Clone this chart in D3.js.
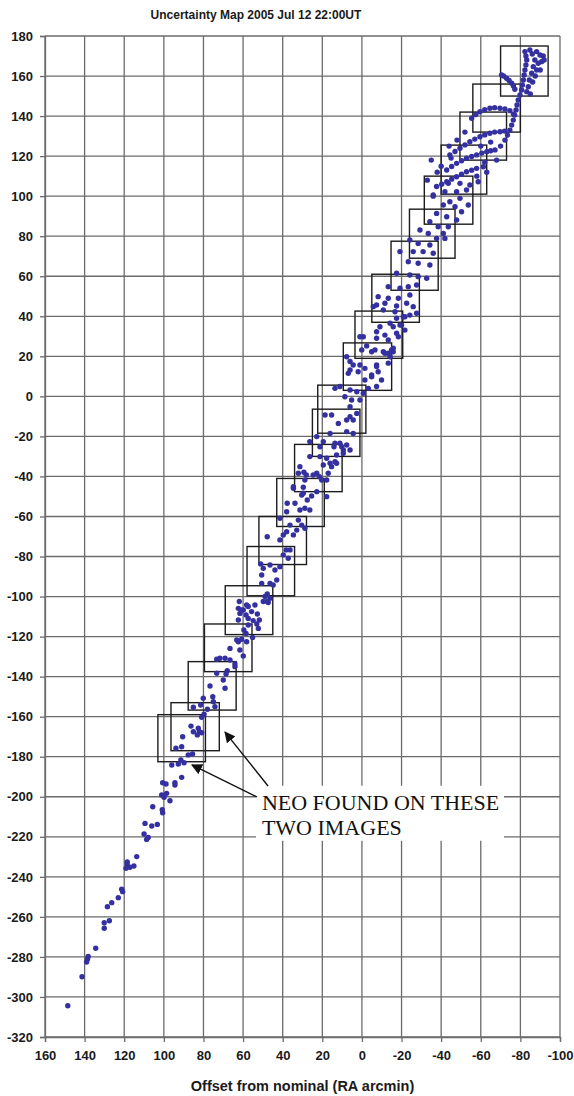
<!DOCTYPE html>
<html>
<head>
<meta charset="utf-8">
<script src="https://cdn.jsdelivr.net/npm/d3@7"></script>
<style>
  html, body { margin: 0; padding: 0; background: #fff; }
  svg { display: block; }
</style>
</head>
<body>
<svg id="chart" width="574" height="1096"></svg>
<script>
// Axis ticks (arcmin offsets from the nominal position)
const raTicks = [160, 140, 120, 100, 80, 60, 40, 20, 0, -20, -40, -60, -80, -100];
const decTicks = [180, 160, 140, 120, 100, 80, 60, 40, 20, 0, -20, -40, -60, -80, -100,
  -120, -140, -160, -180, -200, -220, -240, -260, -280, -300, -320];

// Imaged fields: [ra edge, ra edge, dec low, dec high]
const fieldBoxes = [
  [-94, -70, 150, 175],
  [-80, -56, 132, 156],
  [-73, -49.5, 118, 142],
  [-63, -40, 101, 125.5],
  [-56, -31.5, 86, 110],
  [-47, -24, 69, 93.5],
  [-38.5, -14.7, 53, 77.5],
  [-29, -5, 37, 61],
  [-20.6, 3.5, 19, 42.6],
  [-15, 9.4, 3, 26.7],
  [-2, 22.3, -18.4, 5.6],
  [1, 25, -30, -6.4],
  [10, 34, -47.6, -24],
  [19, 43, -65, -41],
  [28, 52, -84, -60],
  [34, 58, -99.6, -75],
  [45, 69, -119, -94.6],
  [55.5, 79.5, -137.5, -113.7],
  [63.5, 87.7, -156.7, -132.5],
  [72, 96.4, -177, -153],
  [79, 103, -182.5, -159]
];

// Virtual asteroid offsets [ra, dec], grouped by stretch of the uncertainty region
const tailPoints = [
  [148.5, -304.4], [141.3, -289.9], [138.5, -281], [139, -282.5], [138.2, -279.8], [134.4, -275.7],
  [130.1, -265.7], [130.1, -262.9], [127.5, -261.9], [128.5, -254.9], [126.3, -252.9], [123, -250.4],
  [120.8, -247.4], [121.3, -246.2], [119.1, -235.7], [118.5, -233.6], [117.1, -235.2], [115.1, -234.6],
  [113.7, -229.9], [118.5, -232.5], [108.7, -221.3], [107.9, -220.3], [110, -218.6], [106.1, -214.6],
  [109.5, -213.3], [103.3, -213.8], [105.6, -205], [100.6, -208], [100.8, -206.5], [101.1, -199.1],
  [99.9, -200.3], [98.6, -198.3], [96.9, -202], [100.6, -193], [98.9, -193.6], [94.4, -194.1],
  [94.4, -193], [91, -190.3], [96, -184.1], [92.7, -183.6], [89.8, -183]
];

const lowerPoints = [
  [91.4, -181.6], [87.7, -179.1], [85.5, -178.6], [91, -175], [93.9, -175.8], [90.5, -170],
  [86.3, -164.7], [85.1, -167.5], [82.6, -165.8], [82.1, -167.5], [83.1, -169.1], [80.9, -168],
  [80.9, -160.3], [79.7, -158.7], [85.1, -155.3], [81.4, -154.2], [78, -156.3], [74.2, -155],
  [75, -152.5], [75.3, -150], [80.1, -150.8], [76.7, -144.7], [69.1, -145.8], [70, -141.7],
  [73.3, -138.3], [68.6, -138.7], [68, -137], [64.1, -135], [64.1, -133.7], [73.3, -131.3],
  [71.7, -130.8], [69.1, -130.8], [66.6, -131.7], [59.9, -129.7], [66.6, -125.9], [61.6, -126.7],
  [62.4, -122.6], [60.7, -121.3], [58.2, -122.6], [55.2, -120.4], [58.5, -118.4], [52.3, -115.9],
  [53.1, -113.7], [54.9, -112], [57.4, -110.9], [61.6, -108.4], [62.4, -105.9], [59.9, -106.7],
  [57.4, -105], [54, -104.2], [49.8, -102.5], [47.3, -103], [63.2, -121.7], [59.6, -116.7],
  [57.4, -114.2], [62.4, -111.7], [58.5, -109.2], [55.7, -107.5], [52.8, -108.7], [51.8, -111.7],
  [60.7, -106.7], [58.2, -104.2], [61.9, -102.5], [47.8, -102.5], [46.4, -100.9]
];

const middleLowPoints = [
  [47.8, -98.7], [48.9, -100], [50.6, -93.4], [46.4, -93.4], [44.8, -94.2], [43, -91.7],
  [50.6, -89.2], [49.8, -85.9], [46.4, -84.2], [43.9, -86.7], [41.4, -85.1], [51.1, -83.7],
  [39.7, -79.2], [37.2, -80.9], [38.3, -76.7], [36.3, -76.7], [47.8, -70.1], [41.4, -71.7],
  [39.7, -69.2], [38, -67.6], [34.6, -69.2], [32.9, -66.8], [36.3, -64.3], [32.1, -61.8],
  [30.4, -64.3], [28.8, -65.9], [41.4, -60.9], [38, -57.6], [37.7, -53.4], [33.8, -53.4],
  [31.3, -56.8], [28.8, -55.9], [26.3, -56.8], [27.6, -51.8], [25.4, -49.8], [30.4, -49.3],
  [34.6, -45.9], [29.6, -45.4], [28.8, -41.8], [32.1, -38.4], [29.3, -37.9], [24.6, -39.3],
  [21.5, -40.1], [17.8, -41.8], [17, -38.4], [19.5, -34.3], [15.3, -35.1], [13.6, -32.6],
  [17.8, -30.9], [12.8, -29.3], [9.4, -26.8], [7.7, -24.3], [11.1, -23.4], [21.2, -25.2],
  [19.5, -22.6], [14.1, -25.2], [6, -26.8], [22.8, -20.1], [26.3, -22.6], [21.2, -30.1],
  [16.1, -33.4], [12.8, -33.4], [26.3, -30.1], [31.3, -35.1], [28.1, -39.3], [22.8, -38.4],
  [20.3, -41.8], [34.6, -45.1], [29.6, -48.4], [22.8, -47.6], [17.8, -50.1]
];

const middlePoints = [
  [-11.6, 46.5], [-7.4, 45.6], [-17.5, 45.1], [-22.6, 46.5], [-25.9, 44.8], [-24.2, 40.6],
  [-21.7, 39.8], [-27.6, 41.5], [-17.5, 39], [-19.2, 35.6], [-15.8, 34.8], [-17.5, 31.5],
  [-21.7, 33.1], [-7.4, 32.3], [-11.6, 30.6], [1, 29.8], [-2.4, 25.2], [-6.6, 23.2],
  [-10.8, 22.3], [-13.3, 21.5], [-15, 23.2], [-14.2, 19.8], [-15.8, 24], [7.7, 19.8],
  [4.4, 15.7], [6, 13.2], [1.9, 12.3], [-1.5, 14], [-7.4, 15.7], [-4.9, 10.7],
  [-8.2, 12.3], [-9.9, 8.2], [-7.4, 4.9], [-1.5, 8.2], [-3.2, 4], [-0.7, 1.5],
  [2.6, 2.3], [6, 3.2], [11.1, 4.9], [13.6, 4], [8.6, -0.2], [5.2, -1.8],
  [1, -1.8], [6, -5.2], [2.6, -8.5], [6, -10.2], [7.7, -11.8], [4.4, -11.8],
  [15.3, -9.3], [18.6, -9.3], [11.9, -13.5], [16.1, -18.5], [7.7, -17.6], [4.4, -18.5],
  [13.6, -23.4], [10.2, -25.2], [9.4, -28.4], [-0.7, 29.8], [-7.4, 29], [-13.3, 28.2],
  [-18.4, 29.8], [0.1, 23.2], [-4.9, 22.3], [-11.6, 21.5], [-15.8, 22.3], [6, 17.4],
  [1, 15.7], [-7.4, 14.9], [-13.3, 16.6], [6.9, 11.5], [-4.9, 9.8], [-8.2, 49.8],
  [-13.3, 49], [-18.4, 49], [-24.2, 50.6], [-5.7, 44.8], [-10.8, 43.1], [-16.7, 42.3],
  [-20.9, 39.8], [-20, 35.6], [-14.2, 36.5], [-9.1, 34.8]
];

const upperMiddlePoints = [
  [-43.6, 106.4], [-49.5, 106.4], [-54.5, 105.6], [-58.7, 107.2], [-52.8, 103.1], [-47.8, 102.2],
  [-41.9, 102.2], [-36, 100.6], [-49.5, 98.9], [-44.4, 97.2], [-41.1, 95.6], [-47, 94.7],
  [-53.7, 95.6], [-50.3, 92.2], [-37.7, 91.4], [-42.8, 89.7], [-47.8, 88.1], [-34.3, 87.2],
  [-38.5, 84.7], [-43.6, 84.7], [-29.3, 83.1], [-33.5, 81.4], [-41.1, 81.4], [-41.9, 78.9],
  [-37.7, 78.9], [-24.2, 78.1], [-28.4, 76.4], [-34.3, 75.6], [-19.2, 72.3], [-25.9, 72.3],
  [-30.9, 72.3], [-36, 71.5], [-23.4, 67.3], [-28.4, 66.5], [-34.3, 65.6], [-17.5, 61.5],
  [-24.2, 60.6], [-28.4, 59.8], [-32.7, 59], [-13.3, 54.8], [-19.2, 54], [-23.4, 54.8],
  [-27.6, 55.6]
];

const upperPoints = [
  // near-vertical stream into the top field
  [-82.3, 172.2], [-82.8, 170], [-83.2, 168], [-82.8, 165.5], [-82.3, 163], [-81.9, 160.5],
  [-81.5, 158], [-81, 155.5], [-80.6, 153], [-79.8, 150.5], [-78.9, 148], [-78.3, 145.5],
  [-77.8, 143], [-77.1, 140.5], [-76.4, 138], [-75.6, 135.5], [-74.7, 133], [-73.5, 130.5],
  [-72.2, 128],
  // fan at the top right
  [-89.9, 170.5], [-91.5, 170], [-88.2, 172.2], [-87.3, 168], [-86.5, 164.7], [-85.7, 161.4],
  [-84.5, 158], [-84, 154.7], [-83.2, 152.2], [-89, 166.4], [-88.2, 163], [-90.7, 167.2],
  [-86, 171], [-84.8, 173], [-87.5, 160], [-86.2, 157], [-85, 151], [-90, 163], [-92, 168],
  // hooks and arcs
  [-70.5, 160.5], [-71.5, 160], [-73, 158.9], [-74.3, 157.8], [-75.6, 156.4], [-76.5, 155], [-77.2, 153.4],
  [-55.4, 138.9], [-57.5, 140.8], [-59.6, 142.2], [-62, 143.2], [-64.6, 143.9], [-67, 144.2],
  [-69.7, 143.9], [-72.2, 143.5], [-74.7, 142.7], [-76.5, 141],
  [-44.4, 120.6], [-47, 122.3], [-49.5, 123.9], [-52, 125.6], [-54.5, 127.2], [-57, 128.5],
  [-59.6, 129.7], [-62, 130.6], [-64.6, 131.4], [-67, 132], [-69.7, 132.2], [-72, 132.5],
  [-42.8, 113.1], [-45.3, 114.8], [-47.8, 116.4], [-50.3, 117.7], [-52.8, 118.9], [-55.4, 119.8],
  [-57.9, 120.6], [-60.5, 121.5], [-63, 122.2], [-65, 122.7], [-67.2, 123.1],
  [-37.7, 104.8], [-40.3, 106], [-42.8, 107.2], [-45.3, 108.5], [-47.8, 109.7], [-50.3, 111],
  [-52.8, 112.2], [-55.4, 113], [-57.9, 113.9], [-61.3, 114.7],
  // scattered
  [-35, 118], [-38, 112], [-33, 108], [-40, 115], [-44, 125], [-48, 128], [-52, 132],
  [-45, 119], [-36, 100], [-60, 125], [-65, 127], [-70, 125], [-68, 118], [-62, 117],
  [-58, 110], [-63, 112]
];

const allPoints = [].concat(tailPoints, lowerPoints, middleLowPoints, middlePoints,
  upperMiddlePoints, upperPoints);

const svg = d3.select("#chart");
const plot = { left: 45, right: 560, top: 36, bottom: 1037 };

const x = d3.scaleLinear().domain([160, -100]).range([plot.left, plot.right]);
const y = d3.scaleLinear().domain([180, -320]).range([plot.top, plot.bottom]);

const gridColor = "#6b6b6b";
const sansFont = "'Liberation Sans', Arial, sans-serif";
const plainNumber = d => String(d);   // ASCII hyphen for negatives

// Grid
const grid = svg.append("g");
grid.selectAll("line.v").data(raTicks).join("line")
  .attr("x1", d => x(d)).attr("x2", d => x(d))
  .attr("y1", plot.top).attr("y2", plot.bottom)
  .attr("stroke", gridColor).attr("stroke-width", 1.3);
grid.selectAll("line.h").data(decTicks).join("line")
  .attr("x1", plot.left).attr("x2", plot.right)
  .attr("y1", d => y(d)).attr("y2", d => y(d))
  .attr("stroke", gridColor).attr("stroke-width", 1.3);

// Axes
const xAxis = d3.axisBottom(x).tickValues(raTicks).tickFormat(plainNumber).tickSize(5).tickPadding(9);
const yAxis = d3.axisLeft(y).tickValues(decTicks).tickFormat(plainNumber).tickSize(5).tickPadding(7);

const gx = svg.append("g").attr("transform", `translate(0,${plot.bottom})`).call(xAxis);
const gy = svg.append("g").attr("transform", `translate(${plot.left},0)`).call(yAxis);
[gx, gy].forEach(g => {
  g.select(".domain").attr("stroke", gridColor).attr("stroke-width", 1.3);
  g.selectAll(".tick line").attr("stroke", gridColor).attr("stroke-width", 1.3);
  g.selectAll(".tick text")
    .attr("fill", "#1a1a1a")
    .style("font-family", sansFont)
    .style("font-size", "13px")
    .style("font-weight", "bold");
});

// Imaged fields
svg.append("g").selectAll("rect").data(fieldBoxes).join("rect")
  .attr("x", d => x(Math.max(d[0], d[1])))
  .attr("y", d => y(d[3]))
  .attr("width", d => Math.abs(x(d[1]) - x(d[0])))
  .attr("height", d => y(d[2]) - y(d[3]))
  .attr("fill", "none")
  .attr("stroke", "#1c1c1c")
  .attr("stroke-width", 1.4);

// Virtual asteroids
svg.append("g").selectAll("circle").data(allPoints).join("circle")
  .attr("cx", d => x(d[0]))
  .attr("cy", d => y(d[1]))
  .attr("r", 2.7)
  .attr("fill", "#3530a0");

// Title and axis title
svg.append("text")
  .attr("x", 256).attr("y", 19)
  .attr("text-anchor", "middle")
  .style("font-family", sansFont).style("font-size", "12px").style("font-weight", "bold")
  .attr("fill", "#1a1a1a")
  .text("Uncertainty Map 2005 Jul 12 22:00UT");

svg.append("text")
  .attr("x", (plot.left + plot.right) / 2).attr("y", 1091)
  .attr("text-anchor", "middle")
  .style("font-family", sansFont).style("font-size", "14.5px").style("font-weight", "bold")
  .attr("fill", "#1a1a1a")
  .text("Offset from nominal (RA arcmin)");

// Annotation pointing at the two fields with the detection
const defs = svg.append("defs");
defs.append("marker")
  .attr("id", "head").attr("viewBox", "0 0 10 10")
  .attr("refX", 9).attr("refY", 5)
  .attr("markerWidth", 11).attr("markerHeight", 11)
  .attr("markerUnits", "userSpaceOnUse")
  .attr("orient", "auto")
  .append("path").attr("d", "M0,0 L10,5 L0,10 Z").attr("fill", "#111");

const arrows = [
  { from: [53, -200.1], to: [85.8, -184.1] },
  { from: [47.4, -194.6], to: [69.1, -167.7] }
];

const note = svg.append("g");
const noteTop = y(-194.5);
note.append("rect")
  .attr("x", x(53.5)).attr("y", noteTop)
  .attr("width", 248).attr("height", 55)
  .attr("fill", "#fff");
note.selectAll("line").data(arrows).join("line")
  .attr("x1", d => x(d.from[0])).attr("y1", d => y(d.from[1]))
  .attr("x2", d => x(d.to[0])).attr("y2", d => y(d.to[1]))
  .attr("stroke", "#111").attr("stroke-width", 1.4)
  .attr("marker-end", "url(#head)");
const noteText = note.append("text")
  .attr("x", x(50.5))
  .attr("y", noteTop + 24.5)
  .style("font-family", "'Liberation Serif', 'Times New Roman', serif")
  .style("font-size", "22px")
  .attr("fill", "#111");
noteText.append("tspan").text("NEO FOUND ON THESE");
noteText.append("tspan").attr("x", x(50.5)).attr("dy", 25).text("TWO IMAGES");
</script>
</body>
</html>
